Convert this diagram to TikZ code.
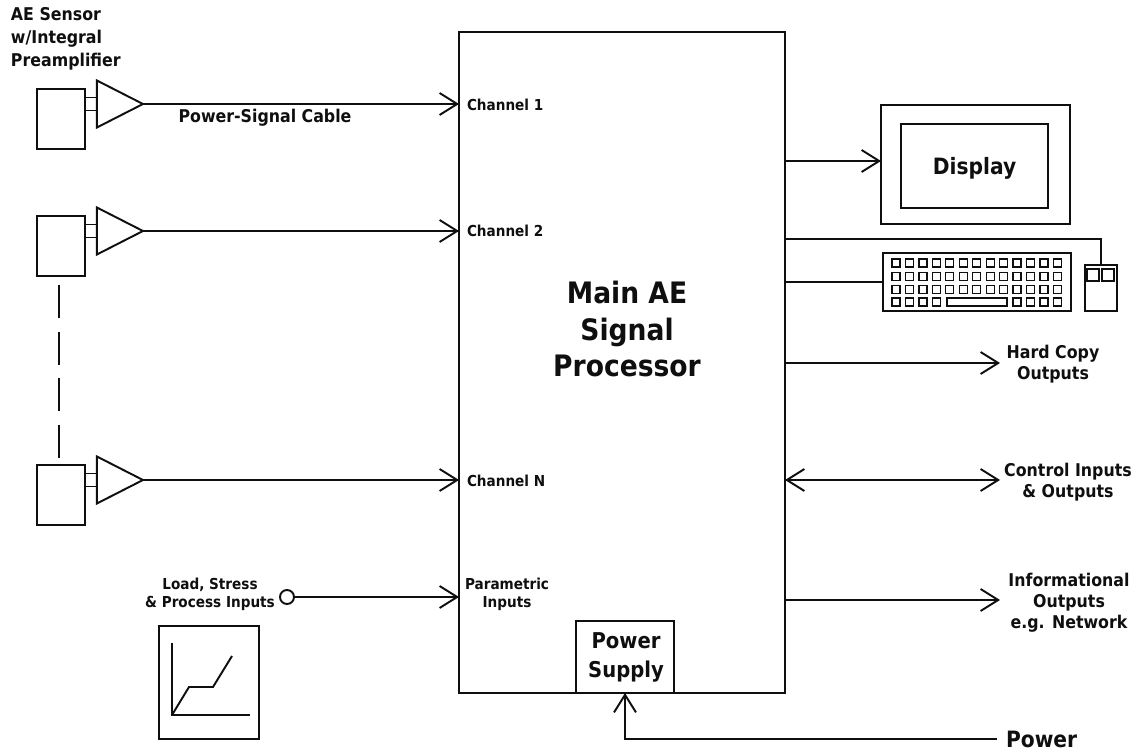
\documentclass[tikz,border=0pt]{standalone}
\usepackage{fontspec}
\setmainfont{DejaVu Sans}[FakeStretch=0.9]
\usepackage{xcolor}
\usetikzlibrary{arrows.meta,positioning,shapes.geometric,calc}
\definecolor{inkgray}{RGB}{15,15,15}
\newcommand{\lblsize}[2]{\bfseries\fontsize{#1}{#2}\selectfont}

\begin{document}
\begin{tikzpicture}[
  scale=2,
  every node/.style={text=inkgray, inner sep=0pt, outer sep=0pt},
  box/.style={draw=inkgray, line width=1.1pt, fill=white},
  amp/.style={draw=inkgray, line width=1.1pt, isosceles triangle, isosceles triangle apex angle=54, minimum height=0.92cm, minimum width=0.94cm, anchor=apex},
  sensorbox/.style={box, minimum width=0.96cm, minimum height=1.2cm},
  msg/.style={-{Straight Barb[length=10pt, width=12.5pt]}, draw=inkgray, line width=1.1pt},
  wire/.style={draw=inkgray, line width=1.1pt},
  keycap/.style={draw=inkgray, line width=0.7pt},
  chan/.style={font=\lblsize{8.6}{10}, anchor=west},
  outlbl/.style={font=\lblsize{10}{12}, align=center}
]
  \useasboundingbox (0, 0) rectangle (11.38, 7.5);

  % Main processor and supply box sitting on its lower edge
  \node[box, minimum width=6.52cm, minimum height=13.22cm] (proc) at (6.22, 3.875) {};
  \node[box, minimum width=1.96cm, minimum height=1.44cm, anchor=south] (psu) at (6.25, 0.57) {};
  \node[font=\lblsize{16.8}{21}, align=center] (proctext) at (6.27, 4.21) {Main AE\\Signal\\Processor};
  \node[font=\lblsize{12.4}{16.4}, align=center] (psutext) at (6.26, 0.93) {Power\\Supply};

  % Sensors with preamplifiers
  \node[sensorbox] (sensorA) at (0.61, 6.31) {};
  \node[sensorbox] (sensorB) at (0.61, 5.04) {};
  \node[sensorbox] (sensorC) at (0.61, 2.55) {};
  \node[amp] (ampA) at (1.43, 6.46) {};
  \node[amp] (ampB) at (1.43, 5.19) {};
  \node[amp] (ampC) at (1.43, 2.70) {};
  \foreach \amp/\sensor in {ampA/sensorA, ampB/sensorB, ampC/sensorC} {
    \draw[wire] ([yshift=0.065cm]\amp.lower side -| \sensor.east) -- ([yshift=0.065cm]\amp.lower side);
    \draw[wire] ([yshift=-0.065cm]\amp.lower side -| \sensor.east) -- ([yshift=-0.065cm]\amp.lower side);
  }

  % Broken line between channel 2 and channel N
  \coordinate (gapA) at (0.59, 4.65);
  \coordinate (gapB) at (0.59, 2.91);
  \draw[wire, dash pattern=on 18.7pt off 7.9pt] (gapA) -- (gapB);

  % Input channels
  \draw[msg] (ampA.apex) -- (ampA.apex -| proc.west);
  \draw[msg] (ampB.apex) -- (ampB.apex -| proc.west);
  \draw[msg] (ampC.apex) -- (ampC.apex -| proc.west);
  \node[chan] (chanA) at (4.67, 6.455) {Channel 1};
  \node[chan] (chanB) at (4.67, 5.19) {Channel 2};
  \node[chan] (chanC) at (4.67, 2.695) {Channel N};
  \node[font=\lblsize{10}{13.2}, align=left, anchor=north west] (sensorlbl) at (0.11, 7.43) {AE Sensor\\w/Integral\\Preamplifier};
  \node[font=\lblsize{10}{11}] (cablelbl) at (2.65, 6.32) {Power-Signal Cable};

  % Parametric input and its small graph
  \node[draw=inkgray, line width=1.1pt, circle, minimum size=0.28cm] (paramin) at (2.87, 1.53) {};
  \draw[msg] (paramin.east) -- (paramin.east -| proc.west);
  \node[font=\lblsize{8.6}{10.2}, align=center] (paramlbl) at (5.07, 1.56) {Parametric\\Inputs};
  \node[font=\lblsize{8.6}{10.2}, align=center] (loadlbl) at (2.10, 1.56) {Load, Stress\\\& Process Inputs};
  \node[box, minimum width=2.0cm, minimum height=2.26cm] (graphbox) at (2.09, 0.675) {};
  \draw[wire] (1.72, 1.07) -- (1.72, 0.35) -- (2.50, 0.35);
  \draw[wire] (1.72, 0.35) -- (1.89, 0.63) -- (2.13, 0.63) -- (2.32, 0.94);

  % Display
  \node[box, minimum width=3.78cm, minimum height=2.38cm] (display) at (9.755, 5.855) {};
  \node[box, minimum width=2.94cm, minimum height=1.68cm, font=\lblsize{12.8}{15}, text depth=0.5pt] (screen) at (9.745, 5.84) {Display};
  \draw[msg] ([yshift=0.035cm]display.west -| proc.east) -- ([yshift=0.035cm]display.west);

  % Keyboard and mouse
  \node[box, minimum width=3.76cm, minimum height=1.16cm] (keyboard) at (9.77, 4.68) {};
  \node[box, minimum width=0.64cm, minimum height=0.92cm] (mouse) at (11.01, 4.62) {};
  \foreach \col in {0,...,12} {
    \foreach \row in {0,1,2} {
      \draw[keycap] ({8.96+0.1345*\col-0.04}, {4.87-0.133*\row-0.04}) rectangle ++(0.08, 0.08);
    }
  }
  \foreach \col in {0,1,2,3,9,10,11,12} {
    \draw[keycap] ({8.96+0.1345*\col-0.04}, 4.44) rectangle ++(0.08, 0.08);
  }
  \draw[keycap] (9.47, 4.44) rectangle (10.07, 4.52);
  \draw[keycap] (10.87, 4.69) rectangle (10.99, 4.81);
  \draw[keycap] (11.02, 4.69) rectangle (11.14, 4.81);
  \draw[wire] (keyboard.west -| proc.east) -- (keyboard.west);
  \coordinate (mousewire) at (proc.east |- 0, 5.11);
  \draw[wire] (mousewire) -| (mouse.north);

  % Other outputs
  \coordinate (copyend) at (10.00, 3.87);
  \coordinate (ctrlend) at (10.00, 2.70);
  \coordinate (infoend) at (10.00, 1.50);
  \draw[msg] (proc.east |- copyend) -- (copyend);
  \draw[{Straight Barb[length=10pt, width=12.5pt]}-{Straight Barb[length=10pt, width=12.5pt]}, wire] (proc.east |- ctrlend) -- (ctrlend);
  \draw[msg] (proc.east |- infoend) -- (infoend);
  \node[outlbl] (copylbl) at (10.53, 3.855) {Hard Copy\\Outputs};
  \node[outlbl] (ctrllbl) at (10.68, 2.68) {Control Inputs\\\& Outputs};
  \node[outlbl] (infolbl) at (10.69, 1.475) {Informational\\Outputs\\e.g. Network};

  % Mains feed
  \node[font=\lblsize{12.8}{15}, anchor=west, outer sep=0.18cm] (powerlbl) at (9.97, 0.11) {Power};
  \draw[msg] (powerlbl.west) -| (psu.south);
\end{tikzpicture}
\end{document}
